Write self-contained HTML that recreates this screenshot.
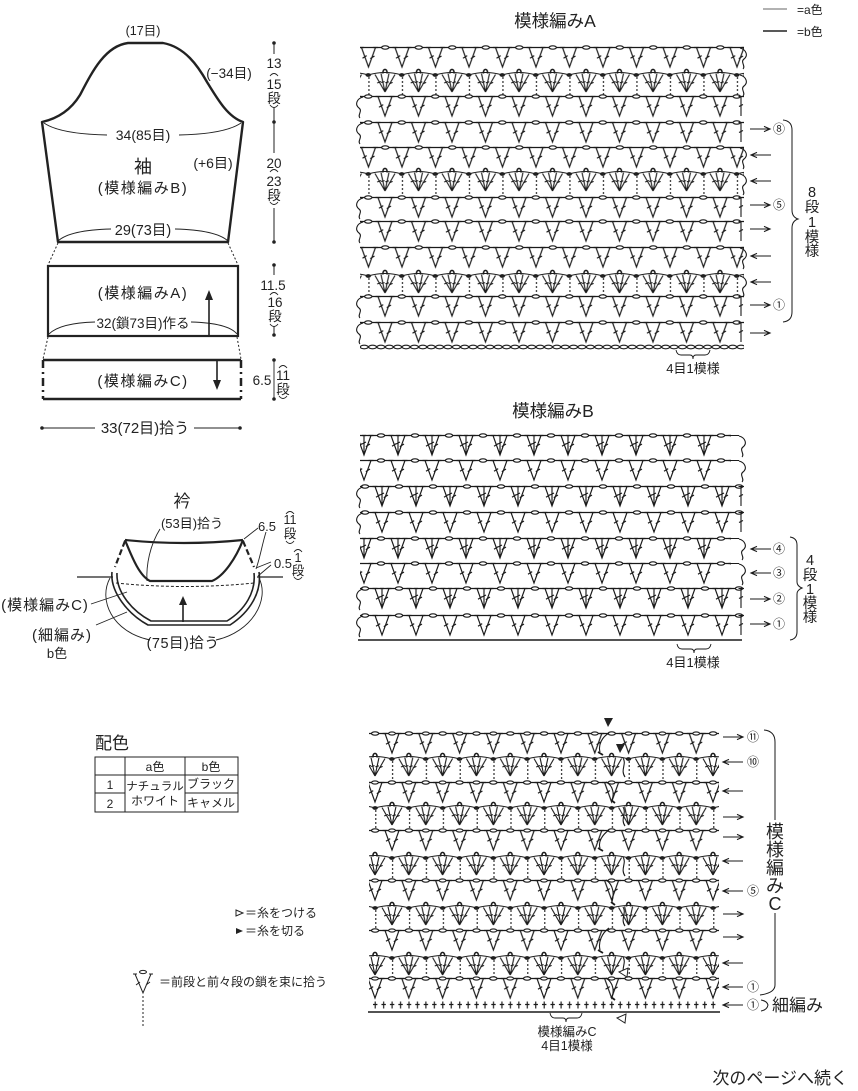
<!DOCTYPE html>
<html><head><meta charset="utf-8">
<style>
html,body{margin:0;padding:0;background:#fff;}
svg{display:block;}
text{font-family:"Liberation Sans","Noto Sans CJK JP",sans-serif;fill:#222;}
.m{text-anchor:middle;}
</style></head><body>
<svg width="858" height="1091" viewBox="0 0 858 1091">
<defs>
<path id="v" d="M-7,0.5 L0,20 L7,0.5 M-9.5,0.5 H-4.5 M4.5,0.5 H9.5 M-6,11.2 L-1.8,8.6 M1.8,11.6 L6,9"/>
<path id="t" d="M-7,0.5 L0,20 L7,0.5 M0,0.5 V20 M-9.5,0.5 H-4.5 M4.5,0.5 H9.5 M-2,0.5 H2 M-6,11.2 L-1.8,8.6 M1.8,11.6 L6,9 M-2,9 L2,7"/>
<g id="f">
 <path d="M0,18 L-10,0.5 M0,18 L-4,-0.5 M0,18 L4,-0.5 M0,18 L10,0.5 M-7.8,9 L-4,7.5 M-3.8,8.5 L-0.4,7.6 M0.4,8.8 L3.8,7.8 M4,10 L7.6,8.4"/>
 <path d="M-2,-0.5 C-2.6,-6 2.6,-6 2,-0.5" stroke-width="1.6"/>
</g>
<path id="cl" d="M3,1 C-4,3 -5,9 -1,12 C3,15 -3,19 0,22"/>
<path id="cr" d="M-3,1 C4,3 5,9 1,12 C-3,15 3,19 0,22"/>
<path id="te" d="M0,0.5 V20 M-2.5,0.5 H2.5 M-2,10.5 L2,8.5"/>
<path id="ar" d="M0,0 H20 M14,-2.6 L20,0 L14,2.6"/>

<pattern id="vA" patternUnits="userSpaceOnUse" width="33.5" height="34" y="-10">
 <g transform="translate(0,10)" fill="none" stroke="#1a1a1a" stroke-width="1.15">
  <line x1="0" y1="0.5" x2="33.5" y2="0.5"/>
  <use href="#v" x="16.75"/>
  <ellipse cx="0" cy="0.5" rx="3.6" ry="1.7" fill="#fff"/>
  <ellipse cx="33.5" cy="0.5" rx="3.6" ry="1.7" fill="#fff"/>
 </g>
</pattern>
<pattern id="fA" patternUnits="userSpaceOnUse" width="33.5" height="34" y="-10">
 <g transform="translate(0,10)" fill="none" stroke="#1a1a1a" stroke-width="1.1">
  <path d="M0,1 Q16.75,-4 33.5,1"/>
  <line x1="0.7" y1="3" x2="0.7" y2="21" stroke-dasharray="2,2"/>
  <use href="#f" x="16.75"/>
  <ellipse cx="0" cy="1" rx="2.2" ry="1.3" fill="#222"/>
  <ellipse cx="33.5" cy="1" rx="2.2" ry="1.3" fill="#222"/>
 </g>
</pattern>
<pattern id="vB" patternUnits="userSpaceOnUse" width="34" height="34" y="-10">
 <g transform="translate(0,10)" fill="none" stroke="#1a1a1a" stroke-width="1.15">
  <line x1="0" y1="0.5" x2="34" y2="0.5"/>
  <use href="#v" x="17"/>
  <ellipse cx="0" cy="0.5" rx="3.6" ry="1.7" fill="#fff"/>
  <ellipse cx="34" cy="0.5" rx="3.6" ry="1.7" fill="#fff"/>
 </g>
</pattern>
<pattern id="tB" patternUnits="userSpaceOnUse" width="34" height="34" y="-10">
 <g transform="translate(0,10)" fill="none" stroke="#1a1a1a" stroke-width="1.15">
  <line x1="0" y1="0.5" x2="34" y2="0.5"/>
  <use href="#t" x="17"/>
  <ellipse cx="0" cy="0.5" rx="3.6" ry="1.7" fill="#fff"/>
  <ellipse cx="34" cy="0.5" rx="3.6" ry="1.7" fill="#fff"/>
 </g>
</pattern>
<pattern id="vC" patternUnits="userSpaceOnUse" width="33.8" height="34" y="-10">
 <g transform="translate(0,10)" fill="none" stroke="#1a1a1a" stroke-width="1.15">
  <line x1="0" y1="0.5" x2="33.8" y2="0.5"/>
  <use href="#v" x="16.9"/>
  <ellipse cx="0" cy="0.5" rx="3.6" ry="1.7" fill="#fff"/>
  <ellipse cx="33.8" cy="0.5" rx="3.6" ry="1.7" fill="#fff"/>
  <ellipse cx="16.9" cy="0.5" rx="3.4" ry="1.6" fill="#fff"/>
 </g>
</pattern>
<pattern id="fC" patternUnits="userSpaceOnUse" width="33.8" height="34" y="-10">
 <g transform="translate(0,10)" fill="none" stroke="#1a1a1a" stroke-width="1.1">
  <path d="M0,1 Q16.9,-4 33.8,1"/>
  <line x1="0.7" y1="3" x2="0.7" y2="21" stroke-dasharray="2,2"/>
  <use href="#f" x="16.9"/>
  <ellipse cx="0" cy="1" rx="2.2" ry="1.3" fill="#222"/>
  <ellipse cx="33.8" cy="1" rx="2.2" ry="1.3" fill="#222"/>
 </g>
</pattern>
<pattern id="chA" patternUnits="userSpaceOnUse" width="8.375" height="6" y="-3">
 <ellipse cx="4.19" cy="3" rx="3.9" ry="1.8" fill="#fff" stroke="#1a1a1a" stroke-width="1.1"/>
</pattern>
<pattern id="scC" patternUnits="userSpaceOnUse" width="8.45" height="10" y="-5">
 <path d="M4.2,1.5 V8.5 M2,4.5 H6.4" fill="none" stroke="#1a1a1a" stroke-width="1.15"/>
</pattern>
</defs>

<!-- ============ LEFT: SLEEVE SCHEMATIC ============ -->
<g fill="none" stroke="#222">
 <path d="M42,122 C60,118 72,108 80,95 C92,72 105,46 128,43 L163,43 C185,47 198,66 207,82 C218,100 228,117 243,122 L228,242 L58,242 Z" stroke-width="2.4" stroke-linejoin="round"/>
 <path d="M44,123 Q60,134 107,135 M179,135 Q225,134 241,123" stroke-width="0.9"/>
 <path d="M58,241 Q70,230 111,229 M175,229 Q216,230 228,241" stroke-width="0.9"/>
 <path d="M58,243 L48,265 M228,243 L238,265 M48,337 L43,359 M237,337 L241,359" stroke-width="1" stroke-dasharray="2,2"/>
 <rect x="48" y="266" width="190" height="70" stroke-width="2.2"/>
 <path d="M49,334 Q60,323 95,322 M191,322 Q228,323 237,334" stroke-width="0.9"/>
 <path d="M209,335 V298" stroke-width="1.6"/>
 <path d="M43,360 H241 M43,399 H241" stroke-width="2.5"/>
 <path d="M43,360 V399 M241,360 V399" stroke-width="2.5" stroke-dasharray="8,4,2,4"/>
 <path d="M217,361 V381" stroke-width="1.6"/>
 <path d="M274,43 V54 M274,108 V153 M274,208 V242" stroke-width="1"/>
 <path d="M270,76 Q274,71 278,76 M270,105 Q274,110 278,105 M270,172 Q274,167 278,172 M270,202 Q274,207 278,202" stroke-width="0.9"/>
 <path d="M274,265 V275 M274,326 V335" stroke-width="1"/>
 <path d="M270,295 Q274,290 278,295 M270,324 Q274,329 278,324" stroke-width="0.9"/>
 <path d="M274,360 V399" stroke-width="0.9"/>
 <path d="M279,368 Q283,363 287,368 M279,396 Q283,401 287,396" stroke-width="0.9"/>
 <path d="M42,428 H95 M194,428 H240" stroke-width="1"/>
</g>
<g fill="#222">
 <polygon points="209,290 205,300 213,300"/>
 <polygon points="217,390 213,380 221,380"/>
 <circle cx="274" cy="43" r="1.8"/><circle cx="274" cy="122" r="1.8"/><circle cx="274" cy="242" r="1.8"/>
 <circle cx="274" cy="265" r="1.8"/><circle cx="274" cy="335" r="1.8"/>
 <circle cx="274" cy="360" r="1.8"/><circle cx="274" cy="399" r="1.8"/>
 <circle cx="42" cy="428" r="1.8"/><circle cx="240" cy="428" r="1.8"/>
</g>
<text class="m" x="143" y="35" font-size="12.5">(17目)</text>
<text class="m" x="229" y="78" font-size="13.5">(−34目)</text>
<text class="m" x="143" y="140" font-size="14">34(85目)</text>
<text class="m" x="143" y="173" font-size="18">袖</text>
<text class="m" x="143" y="193" font-size="15" letter-spacing="1.5">(模様編みB)</text>
<text class="m" x="213" y="168" font-size="14">(+6目)</text>
<text class="m" x="143" y="235" font-size="14.5">29(73目)</text>
<text class="m" x="143" y="298" font-size="15" letter-spacing="1.5">(模様編みA)</text>
<text class="m" x="143" y="328" font-size="13.5">32(鎖73目)作る</text>
<text class="m" x="143" y="386" font-size="15" letter-spacing="1.5">(模様編みC)</text>
<text class="m" x="145" y="433" font-size="15">33(72目)拾う</text>
<g font-size="13.5">
 <text class="m" x="274" y="68">13</text>
 <text class="m" x="274" y="89">15</text>
 <text class="m" x="274" y="103">段</text>
 <text class="m" x="274" y="168">20</text>
 <text class="m" x="274" y="186">23</text>
 <text class="m" x="274" y="200">段</text>
 <text class="m" x="273" y="290">11.5</text>
 <text class="m" x="275" y="307">16</text>
 <text class="m" x="275" y="321">段</text>
 <text class="m" x="262" y="385">6.5</text>
 <text class="m" x="283" y="380">11</text>
 <text class="m" x="283" y="394">段</text>
</g>

<!-- ============ COLLAR ============ -->
<g fill="none" stroke="#222">
 <path d="M125,540 Q184,546 243,540" stroke-width="2.2"/>
 <path d="M125,540 C133,560 140,576 150,581 L212,581 C224,576 236,558 243,540" stroke-width="2.2"/>
 <path d="M125,541 L115,567 M243,541 L254,567" stroke-width="2.2" stroke-dasharray="6,3"/>
 <path d="M112,572 C110,592 128,614 148,625 L230,625 C250,612 262,592 259,572" stroke-width="1.6"/>
 <path d="M117,573 C116,592 132,611 151,621 L227,621 C245,610 256,592 254,573" stroke-width="1.6"/>
 <path d="M77,577 H113 M257,577 H283" stroke-width="1.2"/>
 <path d="M116,583 Q185,590 254,583" stroke-width="1" stroke-dasharray="3,2"/>
 <path d="M110,578 C98,600 112,632 150,640 M216,640 C252,632 270,600 259,578" stroke-width="0.9"/>
 <path d="M183,622 V603" stroke-width="1.6"/>
 <path d="M160,529 C150,545 146,565 147,581" stroke-width="0.9"/>
 <path d="M258,528 L244,539 M266,532 C262,545 260,558 256,569 M271,562 L256,568 M271,565 L258,576" stroke-width="0.9"/>
 <path d="M286,514 Q290,509 294,514 M286,541 Q290,546 294,541 M294,552 Q298,547 302,552 M294,577 Q298,582 302,577" stroke-width="0.9"/>
 <path d="M91,604 L127,592 M96,625 L127,612" stroke-width="0.9"/>
</g>
<polygon points="183,596 179,605 187,605" fill="#222"/>
<text class="m" x="182" y="507" font-size="17">衿</text>
<text class="m" x="192" y="528" font-size="13">(53目)拾う</text>
<text class="m" x="267" y="531" font-size="13">6.5</text>
<text class="m" x="290" y="524" font-size="12.5">11</text>
<text class="m" x="290" y="538" font-size="12.5">段</text>
<text class="m" x="283" y="568" font-size="13">0.5</text>
<text class="m" x="298" y="562" font-size="12.5">1</text>
<text class="m" x="298" y="575" font-size="12.5">段</text>
<text class="m" x="45" y="610" font-size="15" letter-spacing="1">(模様編みC)</text>
<text class="m" x="62" y="640" font-size="15" letter-spacing="1">(細編み)</text>
<text class="m" x="57" y="658" font-size="13">b色</text>
<text class="m" x="183" y="648" font-size="14.5" letter-spacing="0.5">(75目)拾う</text>

<!-- ============ TABLE ============ -->
<text x="95" y="749" font-size="17">配色</text>
<g fill="none" stroke="#222" stroke-width="1">
 <rect x="95" y="757" width="143" height="55"/>
 <path d="M125,757 V812 M185,757 V812 M95,775 H238 M95,793 H125 M185,793 H238"/>
</g>
<g font-size="12">
 <text class="m" x="155" y="771">a色</text>
 <text class="m" x="211" y="771">b色</text>
 <text class="m" x="110" y="789">1</text>
 <text class="m" x="110" y="808">2</text>
 <text class="m" x="155" y="790" font-size="11.5">ナチュラル</text>
 <text class="m" x="155" y="805">ホワイト</text>
 <text class="m" x="211" y="788">ブラック</text>
 <text class="m" x="211" y="807">キャメル</text>
</g>

<polygon points="236,910 243,913 236,916" fill="#fff" stroke="#222" stroke-width="1"/>
<text x="245" y="917" font-size="12">＝糸をつける</text>
<polygon points="236,928 243,931 236,934" fill="#222"/>
<text x="245" y="935" font-size="12">＝糸を切る</text>
<g fill="none" stroke="#222" stroke-width="1">
 <path d="M135,974 L143,993 L151,974 M133,974 H137 M149,974 H153 M136,985 L140,982 M146,985 L150,982"/>
 <ellipse cx="143" cy="972" rx="3.5" ry="1.6"/>
 <path d="M143,996 V1027" stroke-dasharray="2,2"/>
</g>
<text x="159" y="986" font-size="12">＝前段と前々段の鎖を束に拾う</text>

<!-- ============ TOP RIGHT LEGEND ============ -->
<path d="M763,9 H787" stroke="#666" stroke-width="1"/>
<path d="M763,31 H787" stroke="#222" stroke-width="1.5"/>
<text x="797" y="14" font-size="12">=a色</text>
<text x="797" y="36" font-size="12">=b色</text>

<!-- ============ CHART A ============ -->
<text class="m" x="555" y="27" font-size="17.5">模様編みA</text>
<rect transform="translate(351.75,47)" x="8.25" y="-10" width="384" height="34" fill="url(#vA)"/>
<rect transform="translate(368.25,74)" x="-8.25" y="-10" width="384" height="34" fill="url(#fA)"/>
<rect transform="translate(368.25,96)" x="-8.25" y="-10" width="384" height="34" fill="url(#vA)"/>
<rect transform="translate(368.25,122)" x="-8.25" y="-10" width="384" height="34" fill="url(#vA)"/>
<rect transform="translate(351.75,147)" x="8.25" y="-10" width="384" height="34" fill="url(#vA)"/>
<rect transform="translate(368.25,173)" x="-8.25" y="-10" width="384" height="34" fill="url(#fA)"/>
<rect transform="translate(368.25,197)" x="-8.25" y="-10" width="384" height="34" fill="url(#vA)"/>
<rect transform="translate(368.25,221)" x="-8.25" y="-10" width="384" height="34" fill="url(#vA)"/>
<rect transform="translate(351.75,247)" x="8.25" y="-10" width="384" height="34" fill="url(#vA)"/>
<rect transform="translate(368.25,275)" x="-8.25" y="-10" width="384" height="34" fill="url(#fA)"/>
<rect transform="translate(368.25,296)" x="-8.25" y="-10" width="384" height="34" fill="url(#vA)"/>
<rect transform="translate(368.25,322)" x="-8.25" y="-10" width="384" height="34" fill="url(#vA)"/>
<rect transform="translate(360,347)" x="0" y="-3" width="384" height="6" fill="url(#chA)"/>
<g fill="none" stroke="#1a1a1a" stroke-width="1.1">
 <use href="#cl" x="360" y="96"/><use href="#cl" x="360" y="122"/>
 <use href="#cl" x="360" y="197"/><use href="#cl" x="360" y="221"/>
 <use href="#cl" x="360" y="296"/><use href="#cl" x="360" y="322"/>
 <use href="#cr" x="743" y="47"/><use href="#cr" x="743" y="74"/>
 <use href="#cr" x="743" y="147"/><use href="#cr" x="743" y="173"/>
 <use href="#cr" x="743" y="247"/><use href="#cr" x="743" y="275"/>
 <use href="#te" x="741" y="96"/><use href="#te" x="741" y="122"/>
 <use href="#te" x="741" y="197"/><use href="#te" x="741" y="221"/>
 <use href="#te" x="741" y="296"/><use href="#te" x="741" y="322"/>
 <use href="#ar" x="750" y="333"/>
 <use href="#ar" x="750" y="305"/>
 <use href="#ar" transform="translate(771,282) scale(-1,1)"/>
 <use href="#ar" transform="translate(771,256) scale(-1,1)"/>
 <use href="#ar" x="750" y="229"/>
 <use href="#ar" x="750" y="205"/>
 <use href="#ar" transform="translate(771,181) scale(-1,1)"/>
 <use href="#ar" transform="translate(771,155) scale(-1,1)"/>
 <use href="#ar" x="750" y="129"/>
 <path d="M783,120 Q792,121 792,130 L792,210 Q792,217 798,219 Q792,221 792,228 L792,312 Q792,321 783,322" stroke-width="1"/>
 <path d="M676,350 Q677,355 681,355 L690,355 Q693,355 693,359 Q693,355 696,355 L705,355 Q709,355 710,350" stroke-width="0.9"/>
</g>
<text class="m" x="779" y="133" font-size="12">⑧</text>
<text class="m" x="779" y="209" font-size="12">⑤</text>
<text class="m" x="779" y="309" font-size="12">①</text>
<g font-size="14.5">
 <text class="m" x="812" y="197">8</text>
 <text class="m" x="812" y="212">段</text>
 <text class="m" x="812" y="227">1</text>
 <text class="m" x="812" y="242">模</text>
 <text class="m" x="812" y="256">様</text>
</g>
<text class="m" x="693" y="373" font-size="13">4目1模様</text>

<!-- ============ CHART B ============ -->
<text class="m" x="553" y="417" font-size="17.5">模様編みB</text>
<rect transform="translate(381,435)" x="-21" y="-10" width="371" height="34" fill="url(#tB)"/>
<rect transform="translate(381,460)" x="-21" y="-10" width="371" height="34" fill="url(#vB)"/>
<rect transform="translate(365,486)" x="-5" y="-10" width="384" height="34" fill="url(#tB)"/>
<rect transform="translate(365,512)" x="-5" y="-10" width="384" height="34" fill="url(#vB)"/>
<rect transform="translate(381,538)" x="-21" y="-10" width="371" height="34" fill="url(#tB)"/>
<rect transform="translate(381,563)" x="-21" y="-10" width="371" height="34" fill="url(#vB)"/>
<rect transform="translate(365,588)" x="-5" y="-10" width="384" height="34" fill="url(#tB)"/>
<rect transform="translate(365,615)" x="-5" y="-10" width="384" height="34" fill="url(#vB)"/>
<g fill="none" stroke="#1a1a1a" stroke-width="1.1">
 <path d="M731,435.5 H739 M731,460.5 H739 M731,538.5 H739 M731,563.5 H739"/>
 <use href="#cr" x="742" y="435"/><use href="#cr" x="742" y="460"/>
 <use href="#cr" x="742" y="538"/><use href="#cr" x="742" y="563"/>
 <use href="#cl" x="360" y="486"/><use href="#cl" x="360" y="512"/>
 <use href="#cl" x="360" y="588"/><use href="#cl" x="360" y="615"/>
 <use href="#te" x="741" y="486"/><use href="#te" x="741" y="512"/>
 <use href="#te" x="741" y="588"/><use href="#te" x="741" y="615"/>
 <path d="M358,640 H742" stroke-width="1.5"/>
 <use href="#ar" transform="translate(771,549) scale(-1,1)"/>
 <use href="#ar" transform="translate(771,573) scale(-1,1)"/>
 <use href="#ar" x="750" y="599"/>
 <use href="#ar" x="750" y="624"/>
 <path d="M790,537 Q797,538 797,545 L797,582 Q797,586 802,588 Q797,590 797,594 L797,632 Q797,639 790,640" stroke-width="1"/>
 <path d="M677,644 Q678,649 682,649 L691,649 Q694,649 694,653 Q694,649 697,649 L706,649 Q710,649 711,644" stroke-width="0.9"/>
</g>
<text class="m" x="779" y="553" font-size="12">④</text>
<text class="m" x="779" y="577" font-size="12">③</text>
<text class="m" x="779" y="603" font-size="12">②</text>
<text class="m" x="779" y="628" font-size="12">①</text>
<g font-size="14.5">
 <text class="m" x="810" y="565">4</text>
 <text class="m" x="810" y="580">段</text>
 <text class="m" x="810" y="594">1</text>
 <text class="m" x="810" y="608">模</text>
 <text class="m" x="810" y="622">様</text>
</g>
<text class="m" x="693" y="667" font-size="13">4目1模様</text>

<!-- ============ CHART C ============ -->
<rect transform="translate(375.1,733)" x="-6.1" y="-10" width="350" height="34" fill="url(#vC)"/>
<rect transform="translate(358.1,758)" x="10.9" y="-10" width="350" height="34" fill="url(#fC)"/>
<rect transform="translate(358.1,782)" x="10.9" y="-10" width="350" height="34" fill="url(#vC)"/>
<rect transform="translate(375.1,807)" x="-6.1" y="-10" width="350" height="34" fill="url(#fC)"/>
<rect transform="translate(375.1,830)" x="-6.1" y="-10" width="350" height="34" fill="url(#vC)"/>
<rect transform="translate(358.1,857)" x="10.9" y="-10" width="350" height="34" fill="url(#fC)"/>
<rect transform="translate(358.1,880)" x="10.9" y="-10" width="350" height="34" fill="url(#vC)"/>
<rect transform="translate(375.1,907)" x="-6.1" y="-10" width="350" height="34" fill="url(#fC)"/>
<rect transform="translate(375.1,930)" x="-6.1" y="-10" width="350" height="34" fill="url(#vC)"/>
<rect transform="translate(358.1,957)" x="10.9" y="-10" width="350" height="34" fill="url(#fC)"/>
<rect transform="translate(358.1,978)" x="10.9" y="-10" width="350" height="34" fill="url(#vC)"/>
<rect transform="translate(371,1005)" x="0" y="-5" width="348" height="10" fill="url(#scC)"/>
<g fill="none" stroke="#1a1a1a" stroke-width="1.1">
 <path d="M368,1012 H720" stroke-width="1.5"/>
 <path d="M609,733 C602,737 598,745 600,752 M606,782 C614,786 614,795 612,800 M609,830 C602,835 598,842 600,848 M606,880 C614,885 614,895 612,902 M609,928 C602,933 598,942 600,950 M606,978 C614,983 614,992 612,997"/>
 <path d="M598,752 L603,755 M611,800 L615,803 M598,848 L603,851 M611,902 L615,905 M598,950 L603,953 M611,997 L615,1000" stroke-width="1.8"/>
 <path d="M623,758 C627,764 620,770 625,777 M623,807 C627,813 620,819 625,826 M623,857 C627,863 620,869 625,876 M623,907 C627,913 620,919 625,926 M623,957 C627,963 620,969 625,976"/>
 <use href="#ar" x="723" y="737"/>
 <use href="#ar" transform="translate(743,762) scale(-1,1)"/>
 <use href="#ar" transform="translate(743,791) scale(-1,1)"/>
 <use href="#ar" x="723" y="817"/>
 <use href="#ar" x="723" y="837"/>
 <use href="#ar" transform="translate(743,861) scale(-1,1)"/>
 <use href="#ar" transform="translate(743,891) scale(-1,1)"/>
 <use href="#ar" x="723" y="914"/>
 <use href="#ar" x="723" y="937"/>
 <use href="#ar" transform="translate(743,963) scale(-1,1)"/>
 <use href="#ar" transform="translate(743,987) scale(-1,1)"/>
 <use href="#ar" transform="translate(743,1005) scale(-1,1)"/>
 <path d="M764,730 Q775,731 775,742 L775,820 M775,913 L775,985 Q775,993 760,995" stroke-width="1"/>
 <path d="M761,1000 Q767,1001 768,1005 Q767,1010 761,1011" stroke-width="1"/>
 <path d="M550,1013 Q551,1018 555,1018 L563,1018 Q566,1018 566,1022 Q566,1018 569,1018 L577,1018 Q581,1018 582,1013" stroke-width="0.9"/>
</g>
<polygon points="604,718 613,718 608,727" fill="#222"/>
<polygon points="616,744 625,744 620,753" fill="#222"/>
<polygon points="617,1018 626,1014 625,1023" fill="#fff" stroke="#222" stroke-width="1"/>
<polygon points="619,972 628,968 627,977" fill="#fff" stroke="#222" stroke-width="1"/>
<text class="m" x="753" y="741" font-size="12">⑪</text>
<text class="m" x="753" y="766" font-size="12">⑩</text>
<text class="m" x="753" y="895" font-size="12">⑤</text>
<text class="m" x="753" y="991" font-size="12">①</text>
<text class="m" x="753" y="1009" font-size="12">①</text>
<g font-size="18">
 <text class="m" x="775" y="838">模</text>
 <text class="m" x="775" y="856">様</text>
 <text class="m" x="775" y="874">編</text>
 <text class="m" x="775" y="892">み</text>
 <text class="m" x="775" y="910">C</text>
</g>
<text x="772" y="1011" font-size="17">細編み</text>
<text class="m" x="567" y="1036" font-size="12.5">模様編みC</text>
<text class="m" x="567" y="1050" font-size="12.5">4目1模様</text>

<text x="848" y="1084" font-size="17" text-anchor="end">次のページへ続く</text>
</svg>
</body></html>
